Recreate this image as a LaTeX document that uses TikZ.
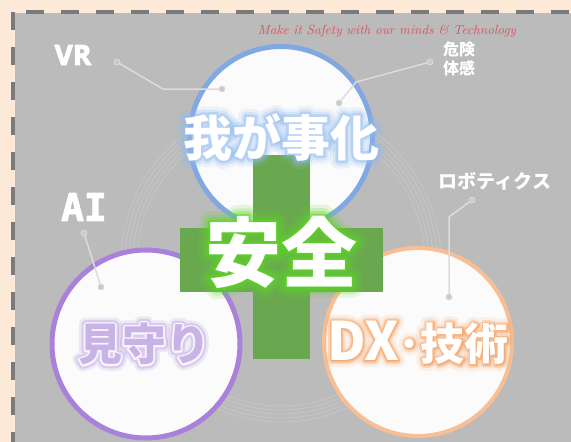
\documentclass[tikz,border=0pt]{standalone}
\usepackage{fontspec}
\usepackage{graphicx}
\newfontfamily\jp{Noto Sans CJK JP}
\newfontfamily\monofam{DejaVu Sans Mono}
\newfontfamily\latinsans{Open Sans}
\usetikzlibrary{calc}
\definecolor{peach}{HTML}{FDE9D8}
\definecolor{bggray}{HTML}{BBBBBB}
\definecolor{dashgray}{HTML}{7A7A7A}
\definecolor{bluering}{HTML}{82A8E2}
\definecolor{purplering}{HTML}{A981DA}
\definecolor{orangering}{HTML}{F8BE94}
\definecolor{bubblefill}{HTML}{FBFBFB}
\definecolor{crossgreen}{HTML}{6AA84F}
\definecolor{glowgreen}{HTML}{5CD626}
\definecolor{glowblue}{HTML}{8FBAF0}
\definecolor{glowpurple}{HTML}{A585D6}
\definecolor{lavender}{HTML}{C9B3E6}
\definecolor{gloworange}{HTML}{F6A466}
\definecolor{leader}{HTML}{DCDCDC}
\definecolor{leaderdot}{HTML}{CACACA}
\definecolor{tagline}{HTML}{E0505A}
\newcommand{\anzenfont}{\jp\bfseries\fontsize{76}{80}\selectfont}
\newcommand{\wagafont}{\jp\bfseries\fontsize{49}{52}\selectfont}
\newcommand{\mimofont}{\jp\bfseries\fontsize{44}{48}\selectfont}
\newcommand{\dxfont}{\jp\bfseries\fontsize{44}{48}\selectfont}
\newcommand{\dxtext}{{\fontsize{53}{53}\selectfont DX}･技術}
% text drawn filled and stroked with the given line width (round joins)
\newcommand{\strk}[2]{\special{pdf:literal direct 2 Tr #1 w 1 j 1 J}#2\special{pdf:literal direct 0 Tr}}
\tikzset{
  bubble/.style={circle, inner sep=0pt, fill=bubblefill},
  crossbar/.style={rectangle, fill=crossgreen, inner sep=0pt},
  labeltext/.style={text=white, inner sep=0pt},
  leaderline/.style={draw=leader, line width=1.5pt},
  dotmark/.style={circle, fill=leaderdot, draw=leader, line width=0.8pt, inner sep=0pt, minimum size=6pt},
  ringline/.style={draw=white, opacity=0.18, line width=0.6pt},
  dashedge/.style={draw=dashgray, line width=4pt, dash pattern=on 18pt off 17pt}
}
\begin{document}
\begin{tikzpicture}[x=1pt,y=-1pt]
\useasboundingbox (0,0) rectangle (571,442);
\clip (0,0) rectangle (571,442);
% background
\fill[peach] (0,0) rectangle (571,442);
\fill[bggray] (15,13) rectangle (590,460);
\draw[dashedge] (13,12) -- (13,460);
\draw[dashedge, dash phase=22pt] (13,12) -- (590,12);
% faint rings
\foreach \rr in {144,148,152,156,160}
  \draw[ringline] (281,262) circle[radius=\rr];
% bubbles
\node[bubble, draw=bluering, line width=5pt, minimum size=183pt] (cblue) at (281,138) {};
\node[bubble, draw=purplering, line width=5pt, minimum size=188pt] (cpurple) at (146,344) {};
\node[bubble, draw=orangering, line width=4pt, minimum size=188pt] (corange) at (418,342) {};
% cross
\node[crossbar, minimum width=57pt, minimum height=204pt] (crossv) at (281.5,257) {};
\node[crossbar, minimum width=203pt, minimum height=64pt] (crossh) at (281.5,260) {};
% 我が事化
\foreach \w/\o in {16/0.14,10/0.22,5/0.45}
  \node[font=\wagafont, text=glowblue, opacity=\o] (gw-\w) at (281,137) {\strk{\w}{我が事化}};
\node[font=\wagafont, text=white] (waga) at (281,137) {我が事化};
% 見守り
\foreach \w/\o in {13/0.16,8/0.28}
  \node[font=\mimofont, text=glowpurple, opacity=\o] (gm-\w) at (144,344) {\strk{\w}{見守り}};
\node[font=\mimofont, text=white, opacity=0.8] (gmw) at (144,344) {\strk{3.5}{見守り}};
\node[font=\mimofont, text=lavender] (mimamori) at (144,344) {見守り};
% DX・技術
\foreach \w/\o in {13/0.14,7/0.3,3.5/0.6}
  \node[font=\dxfont, text=gloworange, opacity=\o] (gd-\w) at (418,343) {\strk{\w}{\dxtext}};
\node[font=\dxfont, text=white] (dx) at (418,343) {\dxtext};
% 安全
\foreach \w/\o in {22/0.14,15/0.2,9/0.3,4/0.5}
  \node[font=\anzenfont, text=glowgreen, opacity=\o] (ga-\w) at (281,252) {\strk{\w}{安全}};
\node[font=\anzenfont, text=white] (anzen) at (281,252) {安全};
% tagline
\node[text=tagline, inner sep=0pt] (tag) at (387,31) {\resizebox{258pt}{!}{\itshape Make it Safety with our minds \& Technology}};
% labels
\node[labeltext, font=\latinsans\bfseries\fontsize{28}{28}\selectfont] (vr) at (73,55) {\strk{0.9}{VR}};
\node[labeltext, align=center, font=\jp\bfseries\fontsize{16}{19}\selectfont] (kiken) at (459,59) {危険\\体感};
\node[labeltext, font=\jp\bfseries\fontsize{19}{19}\selectfont] (robo) at (495,181) {ロボティクス};
\node[labeltext, font=\monofam\bfseries\fontsize{38}{38}\selectfont] (ai) at (84,207) {\strk{0.9}{AI}};
% leader lines
\coordinate (vrA) at (117,62);
\coordinate (vrK) at (163,89);
\coordinate (vrB) at (222,89);
\coordinate (kkA) at (430,62);
\coordinate (kkK) at (356,82);
\coordinate (kkB) at (339,103);
\coordinate (rbA) at (472,200);
\coordinate (rbK) at (449,217);
\coordinate (rbB) at (449,297);
\coordinate (aiA) at (84,233);
\coordinate (aiB) at (101,287);
\draw[leaderline] (vrA) -- (vrK) -- (vrB);
\draw[leaderline] (kkA) -- (kkK) -- (kkB);
\draw[leaderline] (rbA) -- (rbK) -- (rbB);
\draw[leaderline] (aiA) -- (aiB);
\foreach \p in {vrA,vrB,kkA,kkB,rbA,rbB,aiA,aiB}
  \node[dotmark] (dot-\p) at (\p) {};
\end{tikzpicture}
\end{document}
